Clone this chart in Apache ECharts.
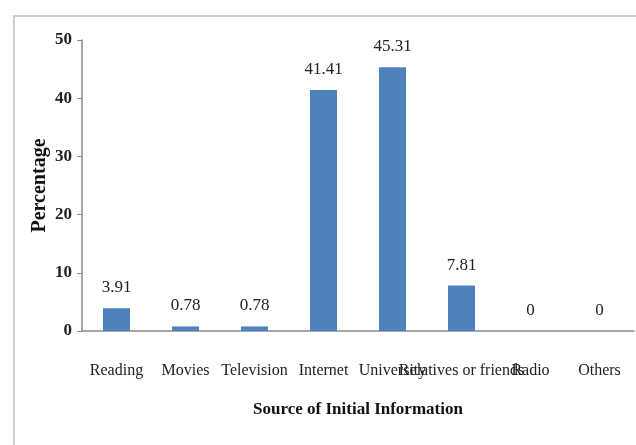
<!DOCTYPE html>
<html>
<head>
<meta charset="utf-8">
<script src="https://cdn.jsdelivr.net/npm/echarts@6/dist/echarts.min.js"></script>
<style>
  html, body { margin: 0; padding: 0; background: #fff; }
  #chart { width: 636px; height: 445px; }
</style>
</head>
<body>
<div id="chart"></div>
<script>
// source categories and their share in percent
const categories = ["Reading", "Movies", "Television", "Internet", "University", "Relatives or friends", "Radio", "Others"];
const percentages = [3.91, 0.78, 0.78, 41.41, 45.31, 7.81, 0, 0];
const yTicks = [0, 10, 20, 30, 40, 50];

const serif = "'Liberation Serif', 'DejaVu Serif', serif";

let chart = echarts.init(document.getElementById("chart"));
chart.setOption({
  animation: false,
  graphic: [
    {
      type: "rect",
      shape: { x: 14, y: 16, width: 700, height: 500 },
      style: { fill: "none", stroke: "#cfcfcf", lineWidth: 2 },
    },
  ],
  grid: {
    left: 82,
    right: 2,
    top: 40,
    bottom: 114,
  },
  xAxis: {
    type: "category",
    data: categories,
    name: "Source of Initial Information",
    nameLocation: "middle",
    nameGap: 70,
    nameTextStyle: {
      fontFamily: serif,
      fontSize: 17,
      fontWeight: "bold",
      color: "#111",
    },
    axisLine: { lineStyle: { color: "#8a8a8a", width: 1.5 } },
    axisTick: { show: false },
    axisLabel: {
      interval: 0,
      margin: 32,
      fontFamily: serif,
      fontSize: 16,
      color: "#222",
    },
  },
  yAxis: {
    type: "value",
    min: yTicks[0],
    max: yTicks[yTicks.length - 1],
    interval: 10,
    name: "Percentage",
    nameLocation: "middle",
    nameGap: 32,
    nameMoveOverlap: false,
    nameTextStyle: {
      fontFamily: serif,
      fontSize: 20,
      fontWeight: "bold",
      color: "#111",
    },
    splitLine: { show: false },
    axisLine: { show: true, lineStyle: { color: "#8a8a8a", width: 1.5 } },
    axisTick: { show: true, length: 5, lineStyle: { color: "#8a8a8a" } },
    axisLabel: {
      margin: 10,
      fontFamily: serif,
      fontSize: 17,
      fontWeight: "bold",
      color: "#222",
    },
  },
  series: [
    {
      type: "bar",
      data: percentages,
      barWidth: 27,
      itemStyle: { color: "#4f81bd" },
      label: {
        show: true,
        position: "top",
        distance: 12,
        fontFamily: serif,
        fontSize: 17,
        color: "#222",
      },
    },
  ],
});
</script>
</body>
</html>
